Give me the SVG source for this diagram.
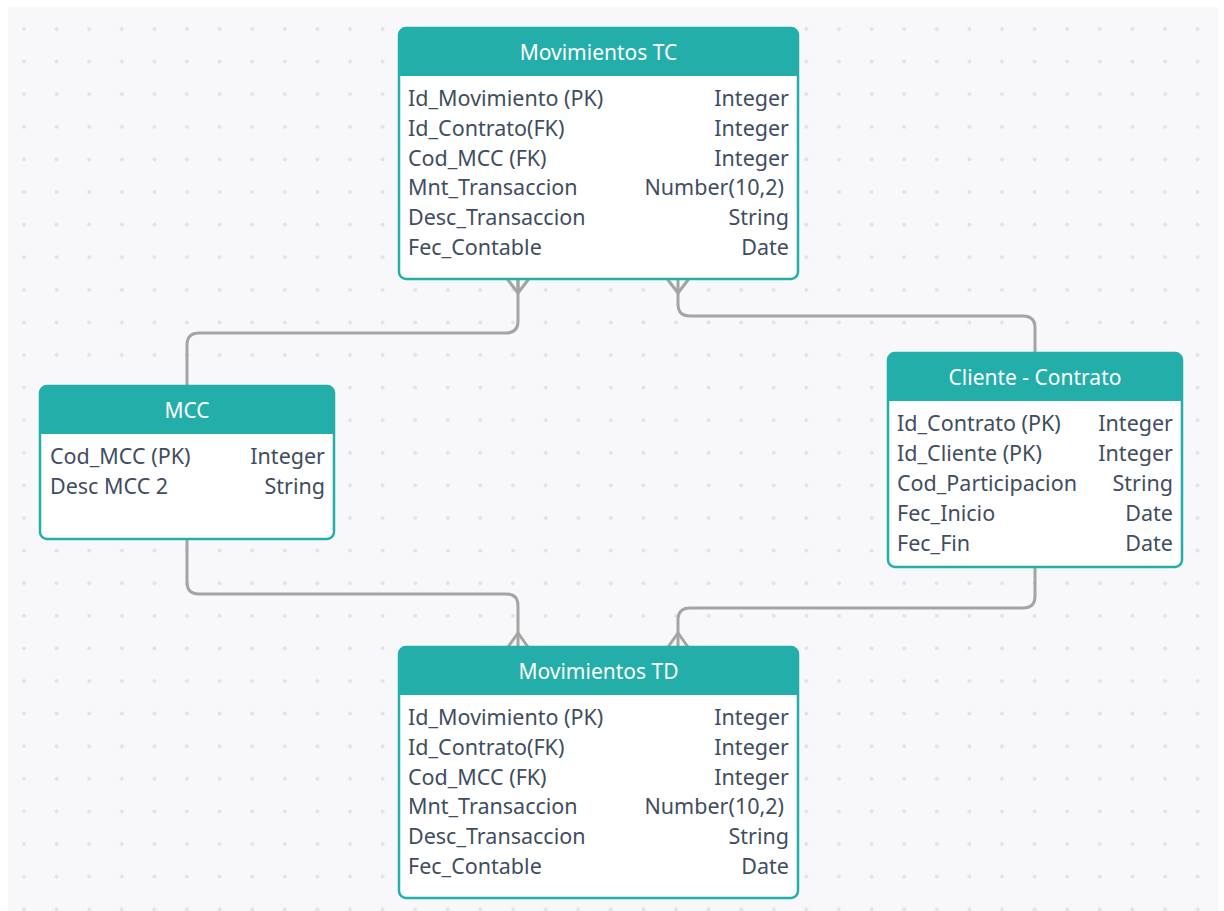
<svg xmlns="http://www.w3.org/2000/svg" width="1224" height="911" viewBox="0 0 1224 911">
  <style>
    .box { fill: #ffffff; stroke: #23aeaa; stroke-width: 2.5; }
    .head { fill: #23aeaa; }
    .title { font-family: "Noto Sans", "Open Sans", sans-serif; font-size: 21px; fill: #ffffff; text-anchor: middle; }
    .f { font-family: "Noto Sans", "Open Sans", sans-serif; font-size: 21.5px; fill: #414d5f; }
    .t { font-family: "Noto Sans", "Open Sans", sans-serif; font-size: 21.5px; fill: #414d5f; text-anchor: end; }
    .link { fill: none; stroke: #a4a4a4; stroke-width: 3; stroke-linecap: round; stroke-linejoin: round; }
  </style>
  <defs>
    <pattern id="dots" patternUnits="userSpaceOnUse" x="7.7" y="12.7" width="32.6" height="32.6">
      <circle cx="16.3" cy="16.3" r="2" fill="#e2e2e6"/>
    </pattern>
  </defs>

  <!-- canvas -->
  <rect x="0" y="0" width="1224" height="911" fill="#ffffff"/>
  <rect x="8" y="7" width="1210" height="904" fill="#f8f8fa"/>
  <rect x="8" y="7" width="1210" height="904" fill="url(#dots)"/>

  <!-- relationships -->
  <g id="connectors">
    <!-- MCC to Movimientos TC -->
    <path class="link" d="M187,386 V345 Q187,333 199,333 H506 Q518,333 518,321 V280"/>
    <path class="link" d="M508,280 L518,293 L528,280 M518,293 V280"/>
    <!-- Cliente - Contrato to Movimientos TC -->
    <path class="link" d="M1035,353 V328 Q1035,316 1023,316 H690 Q678,316 678,304 V280"/>
    <path class="link" d="M668,280 L678,293 L688,280"/>
    <!-- MCC to Movimientos TD -->
    <path class="link" d="M187,540 V582 Q187,594 199,594 H506 Q518,594 518,606 V647"/>
    <path class="link" d="M508,647 L518,633 L528,647"/>
    <!-- Cliente - Contrato to Movimientos TD -->
    <path class="link" d="M1035,567 V596 Q1035,608 1023,608 H690 Q678,608 678,620 V647"/>
    <path class="link" d="M668,647 L678,633 L688,647"/>
  </g>

  <!-- Movimientos TC -->
  <g id="movimientos-tc">
    <rect class="box" x="399" y="28" width="399" height="251" rx="7"/>
    <path class="head" d="M399,76 V35 Q399,28 406,28 H791 Q798,28 798,35 V76 Z"/>
    <text class="title" x="598.5" y="60">Movimientos TC</text>
    <text class="f" x="408" y="106">Id_Movimiento (PK)</text>
    <text class="t" x="789" y="106">Integer</text>
    <text class="f" x="408" y="136">Id_Contrato(FK)</text>
    <text class="t" x="789" y="136">Integer</text>
    <text class="f" x="408" y="166">Cod_MCC (FK)</text>
    <text class="t" x="789" y="166">Integer</text>
    <text class="f" x="408" y="195">Mnt_Transaccion</text>
    <text class="t" x="784" y="195">Number(10,2)</text>
    <text class="f" x="408" y="225">Desc_Transaccion</text>
    <text class="t" x="789" y="225">String</text>
    <text class="f" x="408" y="255">Fec_Contable</text>
    <text class="t" x="789" y="255">Date</text>
  </g>

  <!-- MCC -->
  <g id="mcc">
    <rect class="box" x="40" y="386" width="294" height="153" rx="7"/>
    <path class="head" d="M40,434 V393 Q40,386 47,386 H327 Q334,386 334,393 V434 Z"/>
    <text class="title" x="187" y="418">MCC</text>
    <text class="f" x="50" y="464">Cod_MCC (PK)</text>
    <text class="t" x="325" y="464">Integer</text>
    <text class="f" x="50" y="494">Desc MCC 2</text>
    <text class="t" x="325" y="494">String</text>
  </g>

  <!-- Cliente - Contrato -->
  <g id="cliente-contrato">
    <rect class="box" x="888" y="353" width="294" height="214" rx="7"/>
    <path class="head" d="M888,401 V360 Q888,353 895,353 H1175 Q1182,353 1182,360 V401 Z"/>
    <text class="title" x="1035" y="385">Cliente - Contrato</text>
    <text class="f" x="897" y="431">Id_Contrato (PK)</text>
    <text class="t" x="1173" y="431">Integer</text>
    <text class="f" x="897" y="461">Id_Cliente (PK)</text>
    <text class="t" x="1173" y="461">Integer</text>
    <text class="f" x="897" y="491">Cod_Participacion</text>
    <text class="t" x="1173" y="491">String</text>
    <text class="f" x="897" y="521">Fec_Inicio</text>
    <text class="t" x="1173" y="521">Date</text>
    <text class="f" x="897" y="551">Fec_Fin</text>
    <text class="t" x="1173" y="551">Date</text>
  </g>

  <!-- Movimientos TD -->
  <g id="movimientos-td">
    <rect class="box" x="399" y="647" width="399" height="251" rx="7"/>
    <path class="head" d="M399,695 V654 Q399,647 406,647 H791 Q798,647 798,654 V695 Z"/>
    <text class="title" x="598.5" y="679">Movimientos TD</text>
    <text class="f" x="408" y="725">Id_Movimiento (PK)</text>
    <text class="t" x="789" y="725">Integer</text>
    <text class="f" x="408" y="755">Id_Contrato(FK)</text>
    <text class="t" x="789" y="755">Integer</text>
    <text class="f" x="408" y="785">Cod_MCC (FK)</text>
    <text class="t" x="789" y="785">Integer</text>
    <text class="f" x="408" y="814">Mnt_Transaccion</text>
    <text class="t" x="784" y="814">Number(10,2)</text>
    <text class="f" x="408" y="844">Desc_Transaccion</text>
    <text class="t" x="789" y="844">String</text>
    <text class="f" x="408" y="874">Fec_Contable</text>
    <text class="t" x="789" y="874">Date</text>
  </g>
</svg>
